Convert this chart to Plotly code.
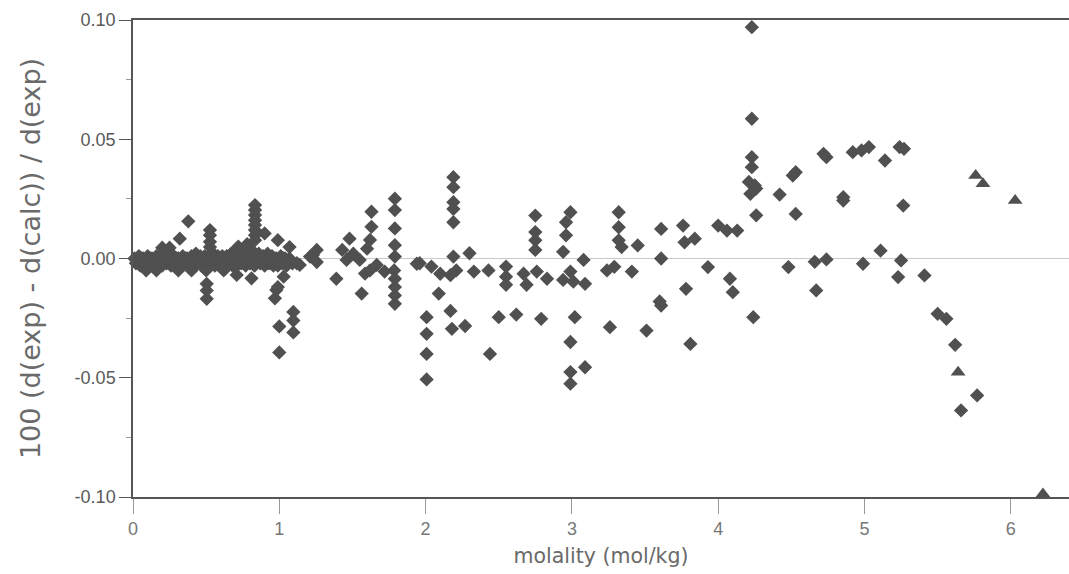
import plotly.graph_objects as go

# Diamond series (molality, relative deviation)
dia_x = [
    # dense band near zero, 0-1.1 mol/kg
    0.01, 0.04, 0.07, 0.10, 0.13, 0.16, 0.19, 0.22, 0.25, 0.28, 0.31, 0.34, 0.37, 0.40, 0.43, 0.46, 0.49, 0.52,
    0.55, 0.58, 0.61, 0.64, 0.67, 0.70, 0.73, 0.76, 0.79, 0.82, 0.86, 0.89, 0.92, 0.95, 0.98, 1.01, 1.04, 1.07,
    0.02, 0.05, 0.08, 0.11, 0.14, 0.17, 0.20, 0.23, 0.26, 0.29, 0.32, 0.35, 0.38, 0.41, 0.44, 0.47, 0.50, 0.53,
    0.56, 0.59, 0.62, 0.65, 0.68, 0.71, 0.74, 0.77, 0.80, 0.83, 0.87, 0.90, 0.93, 0.96, 0.99, 1.02, 1.05, 1.09,
    0.03, 0.06, 0.09, 0.12, 0.15, 0.18, 0.21, 0.24, 0.27, 0.30, 0.33, 0.36, 0.39, 0.42, 0.45, 0.48, 0.51, 0.54,
    0.57, 0.60, 0.63, 0.66, 0.69, 0.72, 0.75, 0.78, 0.81, 0.85, 0.88, 0.91, 0.94, 0.97, 1.00, 1.03, 1.06,
    0.09, 0.16, 0.31, 0.40, 0.50, 0.62,
    0.20, 0.25, 0.32, 0.378, 0.72, 0.78,
    0.526, 0.526, 0.526, 0.526,
    0.834, 0.834, 0.834, 0.834, 0.834, 0.834, 0.834, 0.834,
    0.90, 0.99, 1.07, 1.23,
    0.504, 0.504, 0.504, 0.709, 0.81, 0.834, 1.03, 0.98, 0.97, 1.14, 0.99,
    1.00, 1.00, 1.096, 1.096, 1.096, 1.12,
    # 1.2 - 2.1
    1.256, 1.256, 1.21, 1.39, 1.48, 1.43, 1.46, 1.506, 1.55, 1.563, 1.586, 1.62, 1.666,
    1.63, 1.63, 1.62, 1.60,
    1.79, 1.79, 1.79, 1.79, 1.79, 1.785, 1.79, 1.79, 1.79, 1.79, 1.72, 1.94,
    2.007, 2.007, 2.007, 2.007,
    1.96, 2.04, 2.10, 2.17, 2.21, 2.09, 2.17, 2.18, 2.27,
    2.19, 2.19, 2.19, 2.19, 2.19, 2.19,
    # 2.3 - 3.1
    2.30, 2.33, 2.43, 2.55, 2.55, 2.55, 2.67, 2.69, 2.76, 2.83, 2.94, 2.99, 3.01,
    2.50, 2.62, 2.79, 2.44,
    2.75, 2.75, 2.75, 2.75,
    2.99, 2.96, 2.96, 2.94,
    3.02, 2.99, 2.99, 2.99,
    3.08, 3.09, 3.09,
    # 3.2 - 4.0
    3.32, 3.32, 3.32, 3.34, 3.45, 3.24, 3.29, 3.41, 3.26, 3.51,
    3.61, 3.61, 3.61, 3.60,
    3.76, 3.77, 3.84, 3.78, 3.81, 3.93, 4.00,
    # 4.0 - 5.8
    4.23, 4.23, 4.23, 4.23, 4.21, 4.25, 4.22, 4.26, 4.26,
    4.06, 4.13, 4.08, 4.10, 4.24,
    4.42, 4.53, 4.53, 4.51, 4.72, 4.74, 4.48, 4.66, 4.74, 4.67,
    4.855, 4.855, 4.92, 4.98, 5.03, 5.14, 5.24, 5.27,
    4.99, 5.11, 5.265, 5.25, 5.23, 5.41, 5.50, 5.56, 5.62, 5.77, 5.66,
]
dia_y = [
    0.000, 0.001, 0.000, 0.001, 0.000, 0.001, 0.001, 0.001, 0.002, 0.001, 0.000, 0.001, 0.000, 0.001, 0.002, 0.001, 0.001, 0.001,
    0.002, 0.001, 0.001, 0.001, 0.002, 0.003, 0.002, 0.003, 0.002, 0.003, 0.002, 0.001, 0.002, 0.001, 0.000, 0.001, 0.000, 0.000,
    -0.002, -0.003, -0.002, -0.003, -0.003, -0.002, -0.003, -0.002, -0.003, -0.003, -0.003, -0.002, -0.003, -0.003, -0.002, -0.003, -0.003, -0.002,
    -0.003, -0.003, -0.003, -0.002, -0.003, -0.003, -0.002, -0.003, -0.002, -0.003, -0.002, -0.003, -0.002, -0.003, -0.003, -0.002, -0.003, -0.002,
    -0.001, 0.000, -0.001, 0.000, -0.001, 0.000, -0.001, 0.000, -0.001, 0.000, -0.001, 0.000, -0.001, 0.000, -0.001, 0.000, -0.001, 0.000,
    -0.001, 0.000, -0.001, 0.000, -0.001, 0.000, -0.001, 0.000, -0.001, 0.000, -0.001, 0.000, -0.001, 0.000, -0.001, 0.000, -0.001,
    -0.005, -0.005, -0.005, -0.005, -0.005, -0.005,
    0.0045, 0.0045, 0.0083, 0.0156, 0.005, 0.006,
    0.0119, 0.0098, 0.0070, 0.0048,
    0.0224, 0.0203, 0.0182, 0.0160, 0.0140, 0.0119, 0.0098, 0.0077,
    0.0105, 0.0077, 0.0048, 0.0015,
    -0.0106, -0.0134, -0.0169, -0.0069, -0.0083, -0.0027, -0.0076, -0.0132, -0.0167, -0.0027, -0.0120,
    -0.0285, -0.0394, -0.0224, -0.0260, -0.0310, -0.0020,
    0.0036, -0.0015, 0.0008, -0.0085, 0.0083, 0.0036, -0.0006, 0.0020, -0.0006, -0.0147, -0.0063, -0.0050, -0.0027,
    0.0196, 0.0133, 0.0078, 0.0041,
    0.0251, 0.0203, 0.0126, 0.0056, 0.0008, -0.0050, -0.0085, -0.0120, -0.0155, -0.0190, -0.0055, -0.0022,
    -0.0246, -0.0316, -0.0400, -0.0507,
    -0.0020, -0.0034, -0.0064, -0.0070, -0.0050, -0.0147, -0.0220, -0.0295, -0.0283,
    0.0341, 0.0299, 0.0236, 0.0208, 0.0152, 0.0008,
    0.0022, -0.0055, -0.0050, -0.0034, -0.0076, -0.0110, -0.0064, -0.0110, -0.0055, -0.0085, -0.0090, -0.0055, -0.0097,
    -0.0246, -0.0235, -0.0253, -0.0400,
    0.0180, 0.0111, 0.0076, 0.0036,
    0.0194, 0.0152, 0.0097, 0.0028,
    -0.0246, -0.0350, -0.0476, -0.0525,
    -0.0006, -0.0106, -0.0456,
    0.0194, 0.0131, 0.0076, 0.0048, 0.0055, -0.0050, -0.0035, -0.0055, -0.0288, -0.0302,
    0.0124, 0.0000, -0.0197, -0.0180,
    0.0138, 0.0068, 0.0083, -0.0127, -0.0358, -0.0036, 0.0138,
    0.0970, 0.0586, 0.0425, 0.0383, 0.0321, 0.0306, 0.0271, 0.0293, 0.0181,
    0.0117, 0.0117, -0.0085, -0.0141, -0.0246,
    0.0268, 0.0187, 0.0362, 0.0348, 0.0439, 0.0425, -0.0036, -0.0014, -0.0004, -0.0134,
    0.0257, 0.0243, 0.0446, 0.0453, 0.0467, 0.0411, 0.0467, 0.0460,
    -0.0022, 0.0033, 0.0222, -0.0008, -0.0078, -0.0071, -0.0232, -0.0253, -0.0362, -0.0574, -0.0637,
]

# Triangle series
tri_x = [5.76, 5.81, 6.03, 5.64, 6.22]
tri_y = [0.0348, 0.0313, 0.0243, -0.0477, -0.0987]

x_ticks = [0, 1, 2, 3, 4, 5, 6]
y_ticks = [-0.10, -0.05, 0.00, 0.05, 0.10]
y_tick_labels = ["-0.10", "-0.05", "0.00", "0.05", "0.10"]

mark_color = "#505050"
axis_color = "#555555"
text_color = "#5a5a5a"
title_color = "#6a6a6a"

fig = go.Figure()
fig.add_trace(go.Scatter(
    x=dia_x, y=dia_y, mode="markers",
    marker=dict(symbol="diamond", size=11, color=mark_color, line=dict(width=0)),
    cliponaxis=False, showlegend=False,
))
fig.add_trace(go.Scatter(
    x=tri_x, y=tri_y, mode="markers",
    marker=dict(symbol="triangle-up", size=13, color=mark_color, line=dict(width=0)),
    cliponaxis=False, showlegend=False,
))

fig.update_layout(
    width=1069, height=574,
    margin=dict(l=133, r=0, t=20, b=77),
    paper_bgcolor="white", plot_bgcolor="white",
    font=dict(family="Liberation Sans, Arial, sans-serif", color=text_color, size=17),
    showlegend=False,
)
fig.update_xaxes(
    range=[0, 6.398], tickvals=x_ticks, ticks="outside", ticklen=15, tickwidth=1,
    tickcolor="#999999", showline=True, linecolor=axis_color, linewidth=1.5, mirror=True,
    showgrid=False, zeroline=False,
    title=dict(text="molality (mol/kg)", font=dict(family="DejaVu Sans", size=20.5, color=title_color), standoff=10),
    tickfont=dict(size=18, color="#777777"),
)
fig.update_yaxes(
    range=[-0.10, 0.10], tickvals=y_ticks, ticktext=y_tick_labels, ticks="outside", ticklen=12,
    tickwidth=1, tickcolor=axis_color, showline=True, linecolor=axis_color, linewidth=1.5, mirror=False,
    showgrid=False, zeroline=True, zerolinecolor="#c8c8c8", zerolinewidth=1,
    minor=dict(tickvals=[-0.075, -0.025, 0.025, 0.075], ticks="outside", ticklen=5, tickcolor="#999999"),
    title=dict(text="100 (d(exp) - d(calc)) / d(exp)", font=dict(family="DejaVu Sans", size=27, color=title_color), standoff=26),
    tickfont=dict(size=18, color=text_color),
)

fig.write_html("out.html")
